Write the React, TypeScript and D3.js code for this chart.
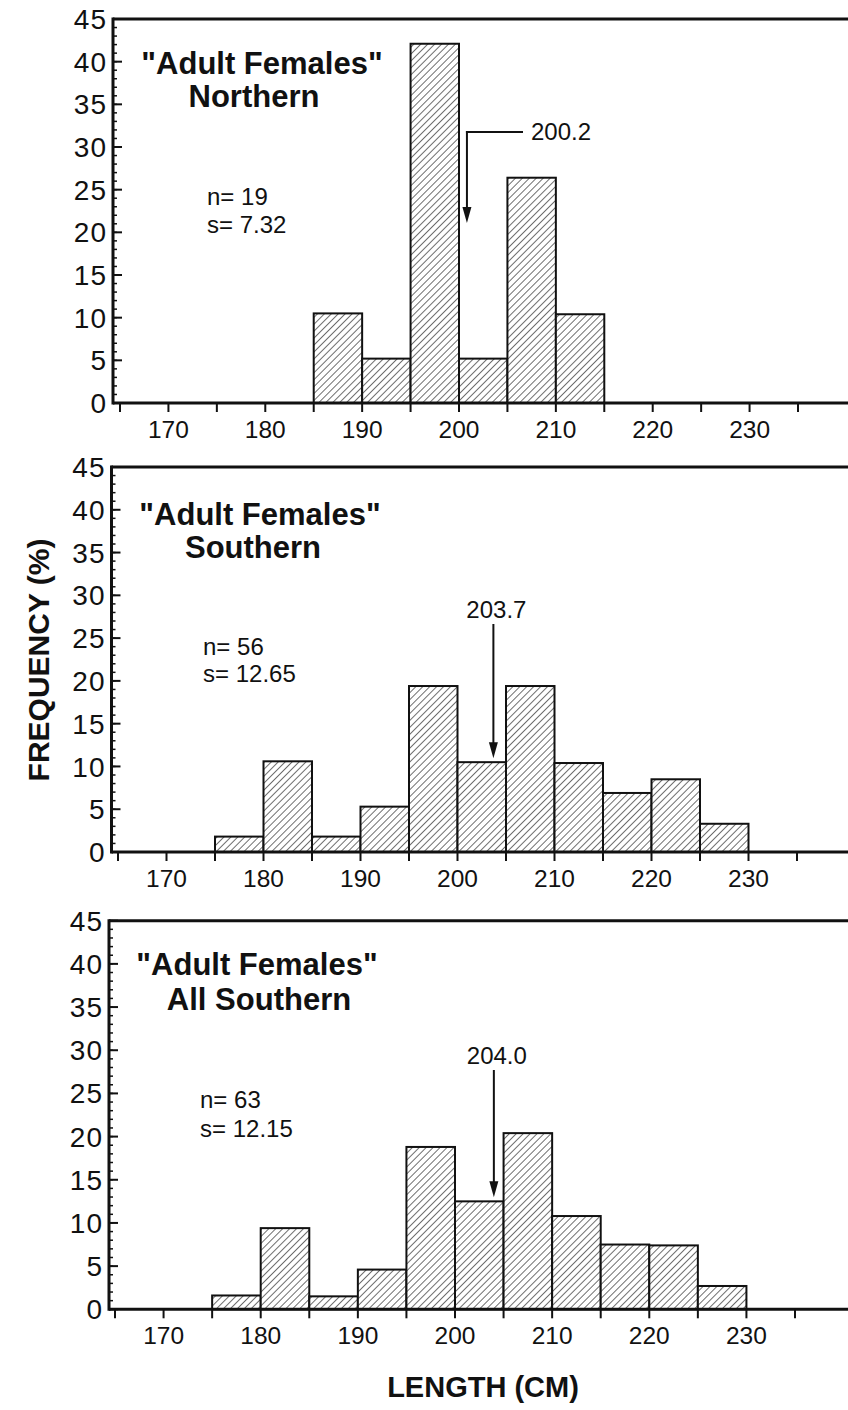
import React from 'react';
import * as d3 from 'd3';

// ---- data ----
const binStarts = [175, 180, 185, 190, 195, 200, 205, 210, 215, 220, 225];
const binWidth = 5;
const northern = [0, 0, 10.5, 5.2, 42.1, 5.2, 26.4, 10.4, 0, 0, 0];
const southern = [1.8, 10.6, 1.8, 5.3, 19.4, 10.5, 19.4, 10.4, 6.9, 8.5, 3.3];
const allSouthern = [1.6, 9.4, 1.5, 4.6, 18.8, 12.5, 20.4, 10.8, 7.5, 7.4, 2.7];
const titleLine1 = ['"Adult Females"', '"Adult Females"', '"Adult Females"'];
const titleLine2 = ['Northern', 'Southern', 'All Southern'];
const nValues = ['19', '56', '63'];
const sValues = ['7.32', '12.65', '12.15'];
const means = [200.2, 203.7, 204.0];
const meanLabels = ['200.2', '203.7', '204.0'];
const xTickValues = d3.range(165, 236, 5);
const xTickLabels = [170, 180, 190, 200, 210, 220, 230];
const yMajorTicks = d3.range(0, 46, 5);
const yMinorTicks = d3.range(0, 46, 1);
const yLabel = 'FREQUENCY (%)';
const xLabel = 'LENGTH (CM)';

const series = [northern, southern, allSouthern];

// ---- layout ----
const layout = [
  { spine: 113, x165: 120, x235: 798, y0: 403, y45: 19, t1x: 262, t2x: 254, t1y: 74, t2y: 107, nx: 207, ny: 205, sy: 233, elbow: true, tipY: 223, labelY: 140, labelX: 531, shaftDx: 6 },
  { spine: 111.5, x165: 118, x235: 797, y0: 852, y45: 467, t1x: 260, t2x: 253, t1y: 525, t2y: 558, nx: 203, ny: 655, sy: 682, elbow: false, tipY: 0, labelY: 618, labelX: 0, shaftDx: 0 },
  { spine: 109, x165: 115, x235: 795, y0: 1309.3, y45: 920.7, t1x: 257, t2x: 259, t1y: 975, t2y: 1010, nx: 200, ny: 1108, sy: 1137, elbow: false, tipY: 0, labelY: 1064, labelX: 0, shaftDx: 0 },
];

const FONT = "'Liberation Sans', Arial, Helvetica, sans-serif";
const W = 848;
const H = 1410;

function Arrow({ x, y1, y2 }: { x: number; y1: number; y2: number }) {
  const headLen = 16;
  const headW = 4.5;
  return (
    <g>
      <line x1={x} y1={y1} x2={x} y2={y2 - headLen + 2} stroke="#111" strokeWidth={2} />
      <path d={`M${x - headW},${y2 - headLen} L${x + headW},${y2 - headLen} L${x},${y2} Z`} fill="#111" />
    </g>
  );
}

function Panel({ idx }: { idx: number }) {
  const L = layout[idx];
  const values = series[idx];
  const x = d3.scaleLinear().domain([165, 235]).range([L.x165, L.x235]);
  const y = d3.scaleLinear().domain([0, 45]).range([L.y0, L.y45]);
  const bars = binStarts.map((b, i) => ({ b, v: values[i] })).filter((d) => d.v > 0);
  const meanX = x(means[idx]) + L.shaftDx;
  const meanBin = binStarts.findIndex((b) => means[idx] >= b && means[idx] < b + binWidth);
  const meanBarTop = y(values[meanBin]);

  return (
    <g>
      {/* bars */}
      {bars.map((d) => (
        <rect
          key={d.b}
          x={x(d.b)}
          y={y(d.v)}
          width={x(d.b + binWidth) - x(d.b)}
          height={y(0) - y(d.v)}
          fill="url(#hatch)"
          stroke="#111"
          strokeWidth={2}
        />
      ))}
      {/* frame: top and left spine, bottom axis */}
      <line x1={L.spine} y1={L.y45} x2={W} y2={L.y45} stroke="#111" strokeWidth={3} />
      <line x1={L.spine} y1={L.y45 - 1.5} x2={L.spine} y2={L.y0 + 1.5} stroke="#111" strokeWidth={3} />
      <line x1={L.spine} y1={L.y0} x2={W} y2={L.y0} stroke="#111" strokeWidth={3} />
      {/* y ticks */}
      {yMinorTicks.map((t) => (
        <line key={'m' + t} x1={L.spine} x2={L.spine + 4} y1={y(t)} y2={y(t)} stroke="#111" strokeWidth={1.5} />
      ))}
      {yMajorTicks.map((t) => (
        <g key={'M' + t}>
          <line x1={L.spine} x2={L.spine + 9} y1={y(t)} y2={y(t)} stroke="#111" strokeWidth={2} />
          <text x={L.spine - 6} y={y(t)} dy="0.36em" textAnchor="end" fontSize={28} fontFamily={FONT} fill="#111" letterSpacing={1}>
            {t}
          </text>
        </g>
      ))}
      {/* x ticks */}
      {xTickValues.map((t) => (
        <line key={'x' + t} x1={x(t)} x2={x(t)} y1={L.y0} y2={L.y0 + 9} stroke="#111" strokeWidth={2} />
      ))}
      {xTickLabels.map((t) => (
        <text key={'xl' + t} x={x(t)} y={L.y0 + 35} textAnchor="middle" fontSize={24.5} fontFamily={FONT} fill="#111">
          {t}
        </text>
      ))}
      {/* titles */}
      <text x={L.t1x} y={L.t1y} textAnchor="middle" fontSize={31} fontWeight="bold" fontFamily={FONT} fill="#111">
        {titleLine1[idx]}
      </text>
      <text x={L.t2x} y={L.t2y} textAnchor="middle" fontSize={31} fontWeight="bold" fontFamily={FONT} fill="#111">
        {titleLine2[idx]}
      </text>
      {/* stats */}
      <text x={L.nx} y={L.ny} fontSize={24} fontFamily={FONT} fill="#111">{`n= ${nValues[idx]}`}</text>
      <text x={L.nx} y={L.sy} fontSize={24} fontFamily={FONT} fill="#111">{`s= ${sValues[idx]}`}</text>
      {/* mean annotation */}
      {L.elbow ? (
        <g>
          <line x1={meanX - 1} y1={132} x2={L.labelX - 8} y2={132} stroke="#111" strokeWidth={2} />
          <Arrow x={meanX} y1={131} y2={L.tipY} />
          <text x={L.labelX} y={L.labelY} fontSize={24} fontFamily={FONT} fill="#111">{meanLabels[idx]}</text>
        </g>
      ) : (
        <g>
          <text x={meanX + 3} y={L.labelY} textAnchor="middle" fontSize={24} fontFamily={FONT} fill="#111">{meanLabels[idx]}</text>
          <Arrow x={meanX} y1={L.labelY + 6} y2={meanBarTop - 4} />
        </g>
      )}
    </g>
  );
}

export default function App() {
  return (
    <svg width={W} height={H} viewBox={`0 0 ${W} ${H}`} style={{ position: 'absolute', left: 0, top: 0, background: '#fff' }}>
      <defs>
        <pattern id="hatch" patternUnits="userSpaceOnUse" width={4.9} height={4.9} patternTransform="rotate(45)">
          <rect width={4.9} height={4.9} fill="#fff" />
          <line x1={0} y1={0} x2={0} y2={4.9} stroke="#222" strokeWidth={1.3} />
        </pattern>
      </defs>
      <rect width={W} height={H} fill="#fff" />
      {[0, 1, 2].map((i) => (
        <Panel key={i} idx={i} />
      ))}
      <text transform="translate(49,660) rotate(-90)" textAnchor="middle" fontSize={30} fontWeight="bold" fontFamily={FONT} fill="#111">
        {yLabel}
      </text>
      <text x={483} y={1397} textAnchor="middle" fontSize={29} fontWeight="bold" fontFamily={FONT} fill="#111">
        {xLabel}
      </text>
    </svg>
  );
}
